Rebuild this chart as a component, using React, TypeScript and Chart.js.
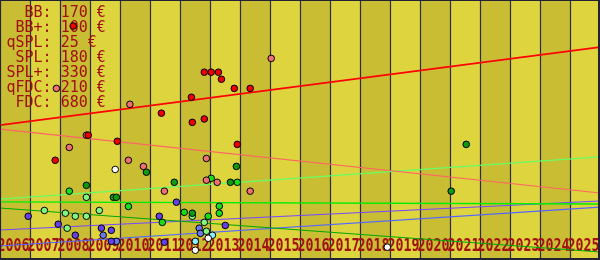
import React, { useEffect, useRef } from "react";
import { Chart, registerables } from "chart.js";

Chart.register(...registerables);

// ---- Data ----
const YEARS = [2006, 2007, 2008, 2009, 2010, 2011, 2012, 2013, 2014, 2015, 2016, 2017, 2018, 2019, 2020, 2021, 2022, 2023, 2024, 2025];
const YEAR_END = 2026;
const PRICE_MAX = 850;

const LEGEND_NAMES = ["BB", "BB+", "qSPL", "SPL", "SPL+", "qFDC", "FDC"];
const LEGEND_PRICES = [170, 100, 25, 180, 330, 210, 680];

const RED_YEARS = [2008.44, 2008.94, 2009.91, 2007.84, 2011.38, 2012.38, 2012.41, 2012.81, 2012.81, 2013.04, 2013.28, 2013.38, 2013.81, 2014.34, 2013.91];
const RED_PRICES = [765, 408, 388, 326, 480, 532, 450, 461, 614, 614, 614, 591, 561, 561, 378];

const PINK_YEARS = [2007.88, 2010.33, 2015.04, 2008.88, 2008.31, 2010.28, 2010.78, 2012.88, 2012.88, 2013.24, 2011.48, 2014.34];
const PINK_PRICES = [561, 509, 659, 408, 368, 326, 306, 332, 261, 254, 225, 225];

const DKGREEN_YEARS = [2010.88, 2008.88, 2009.78, 2009.88, 2011.81, 2013.88, 2013.68, 2012.41, 2021.54, 2021.04];
const DKGREEN_PRICES = [287, 244, 205, 205, 254, 306, 254, 153, 378, 225];

const GREEN_YEARS = [2008.31, 2010.28, 2013.04, 2013.91, 2013.31, 2013.31, 2011.41, 2012.14, 2012.94];
const GREEN_PRICES = [225, 175, 267, 254, 176, 153, 123, 156, 143];

const LTGREEN_YEARS = [2008.88, 2007.48, 2009.31, 2008.18, 2008.51, 2008.88, 2008.24, 2012.41, 2012.81, 2012.88];
const LTGREEN_PRICES = [205, 162, 162, 153, 143, 143, 104, 143, 123, 94];

const PURPLE_YEARS = [2006.94, 2007.94, 2009.38, 2009.71, 2008.51, 2009.71, 2011.88, 2011.31, 2013.51, 2011.48];
const PURPLE_PRICES = [143, 117, 104, 97, 81, 61, 189, 143, 113, 58];

const BLUE_YEARS = [2009.44, 2009.88, 2012.64, 2012.68];
const BLUE_PRICES = [81, 61, 104, 87];

const CYAN_YEARS = [2013.08, 2012.51];
const CYAN_PRICES = [81, 61];

const WHITE_YEARS = [2009.84, 2012.94, 2012.51, 2018.91];
const WHITE_PRICES = [296, 71, 32, 42];

const TREND_YEARS = [2006, 2026];
const TREND_FDC = [441, 696];
const TREND_QFDC = [428, 219];
const TREND_SPLP = [199, 337];
const TREND_SPL = [190, 183];
const TREND_QSPL = [170, 26];
const TREND_BBP = [98, 193];
const TREND_BB = [46, 173];

// ---- helpers ----
const pts = (xs: number[], ys: number[]) => xs.map((x, i) => ({ x, y: ys[i] }));

const pointSet = (label: string, xs: number[], ys: number[], color: string, order: number) => ({
  type: "scatter" as const,
  label,
  data: pts(xs, ys),
  backgroundColor: color,
  borderColor: "#000000",
  borderWidth: 1,
  pointRadius: 3.3,
  showLine: false,
  order,
});

const trendSet = (label: string, ys: number[], color: string, width: number, order: number) => ({
  type: "line" as const,
  label,
  data: pts(TREND_YEARS, ys),
  borderColor: color,
  borderWidth: width,
  pointRadius: 0,
  fill: false,
  tension: 0,
  order,
});

const backdropPlugin = {
  id: "backdrop",
  beforeDatasetsDraw(chart: any) {
    const { ctx, chartArea, scales } = chart;
    const xs = scales.x;
    ctx.save();
    YEARS.forEach((yr, i) => {
      const x0 = xs.getPixelForValue(yr);
      const x1 = xs.getPixelForValue(i + 1 < YEARS.length ? YEARS[i + 1] : YEAR_END);
      ctx.fillStyle = i % 2 === 0 ? "#c9bd34" : "#ddd43e";
      ctx.fillRect(x0, chartArea.top, x1 - x0, chartArea.bottom - chartArea.top);
    });
    ctx.strokeStyle = "#2c2c3e";
    ctx.lineWidth = 1.2;
    YEARS.forEach((yr) => {
      const x = Math.round(xs.getPixelForValue(yr)) + 0.5;
      ctx.beginPath();
      ctx.moveTo(x, chartArea.top);
      ctx.lineTo(x, chartArea.bottom);
      ctx.stroke();
    });
    ctx.fillStyle = "#a31212";
    ctx.font = 'bold 17px "DejaVu Sans Mono", monospace';
    ctx.textAlign = "left";
    ctx.textBaseline = "alphabetic";
    YEARS.forEach((yr) => {
      const x = xs.getPixelForValue(yr) - 2.5;
      ctx.fillText(String(yr), x, chartArea.bottom - 9, 32);
    });
    ctx.fillStyle = "#a01010";
    ctx.font = '15px "DejaVu Sans Mono", monospace';
    LEGEND_NAMES.forEach((n, i) => {
      const t = `${n.padStart(4, " ")}: ${LEGEND_PRICES[i]} €`;
      ctx.fillText(t, chartArea.left + 6.5, chartArea.top + 17 + i * 15);
    });
    ctx.restore();
  },
  afterDraw(chart: any) {
    const { ctx, width, height } = chart;
    ctx.save();
    ctx.fillStyle = "#222233";
    ctx.fillRect(0, 0, width, 1);
    ctx.fillRect(0, height - 2, width, 2);
    ctx.fillRect(width - 2, 0, 2, height);
    ctx.fillRect(0, 0, 1, height);
    ctx.restore();
  },
};

export default function App() {
  const ref = useRef<HTMLCanvasElement | null>(null);
  useEffect(() => {
    if (!ref.current) return;
    const chart = new Chart(ref.current, {
      type: "scatter",
      data: {
        datasets: [
          pointSet("FDC", RED_YEARS, RED_PRICES, "#ee0000", 1),
          pointSet("qFDC", PINK_YEARS, PINK_PRICES, "#f07070", 2),
          pointSet("qSPL", DKGREEN_YEARS, DKGREEN_PRICES, "#109a10", 3),
          pointSet("SPL", GREEN_YEARS, GREEN_PRICES, "#18dd18", 4),
          pointSet("SPL+", LTGREEN_YEARS, LTGREEN_PRICES, "#80f880", 5),
          pointSet("BB+", PURPLE_YEARS, PURPLE_PRICES, "#6440e8", 6),
          pointSet("BB", BLUE_YEARS, BLUE_PRICES, "#6a78f0", 7),
          pointSet("white", WHITE_YEARS, WHITE_PRICES, "#ffffff", 8),
          pointSet("cyan", CYAN_YEARS, CYAN_PRICES, "#88f0ff", 9),
          trendSet("FDC trend", TREND_FDC, "#ff0000", 1.7, 20),
          trendSet("qFDC trend", TREND_QFDC, "#ff6464", 1.1, 21),
          trendSet("SPL+ trend", TREND_SPLP, "#66ff66", 1.1, 22),
          trendSet("SPL trend", TREND_SPL, "#00ee00", 1.3, 23),
          trendSet("qSPL trend", TREND_QSPL, "#00a800", 1.1, 24),
          trendSet("BB+ trend", TREND_BBP, "#7448ff", 1.1, 25),
          trendSet("BB trend", TREND_BB, "#5466ff", 1.1, 26),
        ] as any,
      },
      options: {
        animation: false,
        responsive: false,
        devicePixelRatio: 1,
        layout: { padding: 0, autoPadding: false },
        plugins: { legend: { display: false }, tooltip: { enabled: false } },
        scales: {
          x: { type: "linear", min: YEARS[0], max: YEAR_END, display: false },
          y: { type: "linear", min: 0, max: PRICE_MAX, display: false },
        },
      },
      plugins: [backdropPlugin],
    });
    return () => chart.destroy();
  }, []);
  return (
    <div style={{ position: "fixed", left: 0, top: 0, width: 600, height: 260 }}>
      <canvas ref={ref} width={600} height={260} style={{ display: "block" }} />
    </div>
  );
}
